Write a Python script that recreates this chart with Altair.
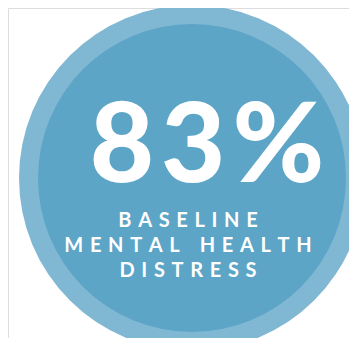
import altair as alt
import pandas as pd

# Content
value_pct = [83]
label_lines = ["BASELINE", "MENTAL HEALTH", "DISTRESS"]

# Colours
ring_color = "#80b8d3"
disc_color = "#5ca5c7"

LETTER_GAP = "\u2004"
WORD_GAP = "\u2003\u2005"

def spaced(s):
    return WORD_GAP.join(LETTER_GAP.join(list(w)) for w in s.split(" "))

W, H = 341, 330
xs = alt.Scale(domain=[8, 8 + W], nice=False, zero=False)
ys = alt.Scale(domain=[8, 8 + H], nice=False, zero=False, reverse=True)

circles = pd.DataFrame({
    "x": [192, 192],
    "y": [178, 178],
    "r": [173, 154],
    "c": [ring_color, disc_color],
})
circles["size"] = (2 * circles["r"]) ** 2

base = alt.Chart(circles).mark_point(filled=True, shape="circle", opacity=1, strokeWidth=0).encode(
    x=alt.X("x:Q", scale=xs, axis=None),
    y=alt.Y("y:Q", scale=ys, axis=None),
    size=alt.Size("size:Q", scale=None, legend=None),
    color=alt.Color("c:N", scale=None, legend=None),
    order=alt.Order("r:Q", sort="descending"),
)

big = pd.DataFrame({"t": ["\u200a".join(f"{value_pct[0]}%")], "x": [207], "y": [182]})
big_text = alt.Chart(big).mark_text(
    font="Lato", fontWeight=900, fontSize=111, color="white", baseline="alphabetic", align="center"
).encode(x=alt.X("x:Q", scale=xs, axis=None), y=alt.Y("y:Q", scale=ys, axis=None), text="t:N")

lab = pd.DataFrame({
    "t": [spaced(s) for s in label_lines],
    "x": [188, 188, 188],
    "y": [227, 252, 277],
})
lab_text = alt.Chart(lab).mark_text(
    font="Lato", fontWeight=700, fontSize=20, color="white", baseline="alphabetic", align="center"
).encode(x=alt.X("x:Q", scale=xs, axis=None), y=alt.Y("y:Q", scale=ys, axis=None), text="t:N")

chart = alt.layer(base, big_text, lab_text).properties(
    width=W, height=H, padding=0, autosize=alt.AutoSizeParams(type="none")
).configure_view(strokeWidth=0, stroke="transparent", clip=False).configure_axis(domain=False).configure(background="white")

chart.save("out.html", embed_options={"renderer": "svg", "actions": False})
